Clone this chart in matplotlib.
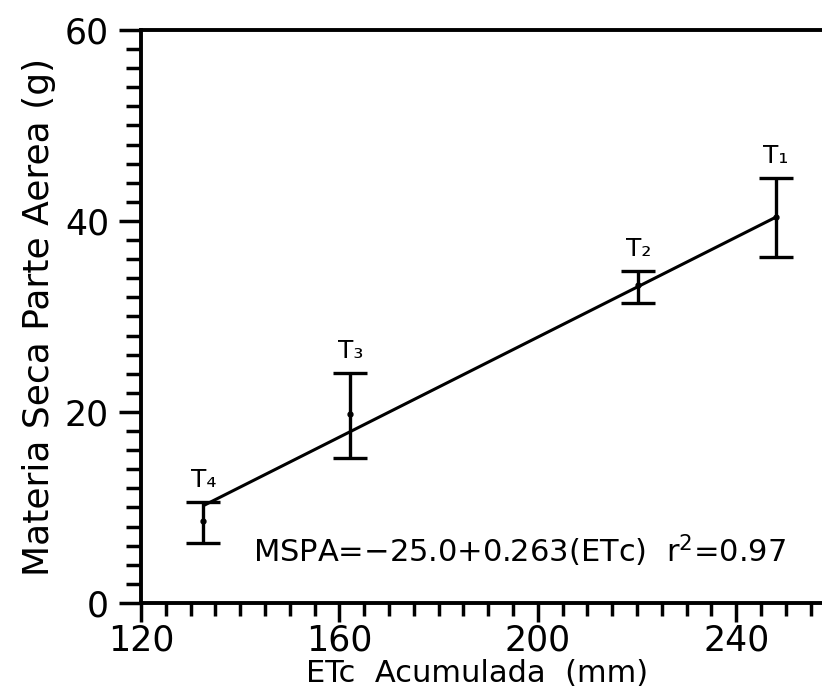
import matplotlib.pyplot as plt
from matplotlib.ticker import MultipleLocator

# Tratamientos: ETc acumulada (mm) y materia seca parte aerea (g)
labels = ['T\u2081', 'T\u2082', 'T\u2083', 'T\u2084']
etc = [248.0, 220.3, 162.2, 132.6]
mspa = [40.4, 33.3, 19.8, 8.6]
err_low = [4.2, 1.9, 4.6, 2.3]
err_high = [4.1, 1.5, 4.3, 2.0]

# Recta de regresion (extremos)
line_x = [133.0, 248.0]
line_y = [10.3, 40.4]

plt.rcParams['font.family'] = 'DejaVu Sans'

fig = plt.figure(figsize=(8.22, 6.91), dpi=100)
ax = fig.add_axes([0.1715, 0.1274, 0.8285, 0.8292])

ax.plot(line_x, line_y, color='black', lw=2.2)
ax.errorbar(etc, mspa, yerr=[err_low, err_high], fmt='o', ms=3.5, color='black',
            ecolor='black', elinewidth=2.4, capsize=12, capthick=2.4)

# Etiquetas de cada tratamiento sobre la barra de error
for x, y, hi, lab in zip(etc, mspa, err_high, labels):
    ax.text(x, y + hi + 1.0, lab, ha='center', va='bottom', fontsize=18)

ax.text(142.5, 5.5, 'MSPA=\u221225.0+0.263(ETc)  r$^2$=0.97', fontsize=22,
        va='center', ha='left')

ax.set_xlim(120, 257.3)
ax.set_ylim(0, 60)
ax.set_xticks([120, 160, 200, 240])
ax.set_yticks([0, 20, 40, 60])
ax.xaxis.set_minor_locator(MultipleLocator(5))
ax.yaxis.set_minor_locator(MultipleLocator(2))
ax.tick_params(which='major', length=14, width=2.5, labelsize=25, direction='out')
ax.tick_params(which='minor', length=9, width=2.5, direction='out')
ax.tick_params(axis='y', which='major', length=16, pad=7)
ax.tick_params(axis='y', which='minor', length=11)
ax.tick_params(axis='x', pad=1)

ax.spines['right'].set_visible(False)
for s in ['left', 'bottom', 'top']:
    ax.spines[s].set_linewidth(2.8)

ax.set_xlabel('ETc  Acumulada  (mm)', fontsize=22)
ax.set_ylabel('Materia Seca Parte Aerea (g)', fontsize=26)
ax.xaxis.set_label_coords(0.493, -0.097)
ax.yaxis.set_label_coords(-0.125, 0.5)

fig.savefig('out.png', dpi=100)
